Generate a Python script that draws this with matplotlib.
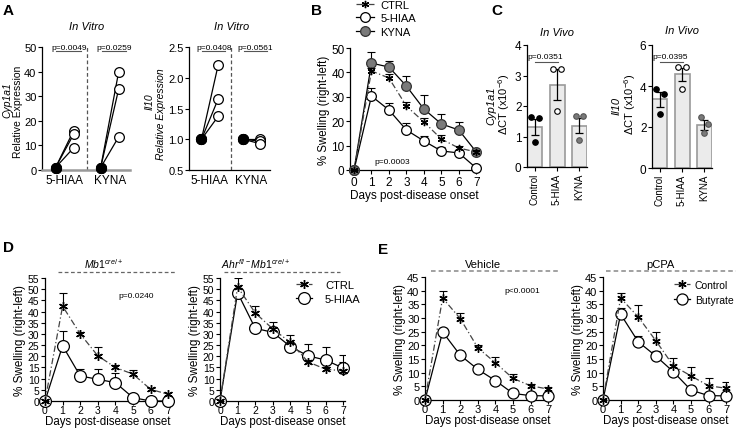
import numpy as np
import matplotlib
matplotlib.use("Agg")
import matplotlib.pyplot as plt

plt.rcParams['font.family'] = ['Liberation Sans', 'DejaVu Sans']
plt.rcParams['mathtext.fontset'] = 'custom'
plt.rcParams['mathtext.rm'] = 'Liberation Sans'
plt.rcParams['mathtext.it'] = 'Liberation Sans:italic'
plt.rcParams['axes.linewidth'] = 0.9

W, H = 736, 431

# ---- A: in vitro relative expression (replicates, baseline -> treated)
a_groups = ['5-HIAA', 'KYNA']
a_cyp_base = [[1, 1, 1], [1, 1, 1]]
a_cyp_treat = [[16, 14.5, 9], [40, 33, 13.5]]
a_il10_base = [[1, 1, 1], [1, 1, 1]]
a_il10_treat = [[2.2, 1.65, 1.37], [1.0, 0.97, 0.93]]
a_cyp_p = ['p=0.0049', 'p=0.0259']
a_il10_p = ['p=0.0408', 'p=0.0561']

# ---- B: swelling, CTRL / 5-HIAA / KYNA
days = [0, 1, 2, 3, 4, 5, 6, 7]
b_labels = ['CTRL', '5-HIAA', 'KYNA']
b_ctrl = [0, 40.6, 37.7, 26.2, 19.7, 12.7, 9.0, 7.4]
b_ctrl_err = [0, 1.0, 1.5, 1.8, 1.6, 1.5, 0.8, 0.8]
b_hiaa = [0, 30.3, 24.6, 16.4, 11.9, 7.8, 7.0, 0.8]
b_hiaa_err = [0, 3.2, 2.9, 2.8, 2.0, 1.5, 1.2, 0.5]
b_kyna = [0, 43.8, 42.2, 34.4, 25.0, 18.9, 16.4, 7.4]
b_kyna_err = [0, 4.5, 2.4, 4.0, 5.7, 4.1, 3.3, 1.5]

# ---- C: in vivo dCT bars
c_groups = ['Control', '5-HIAA', 'KYNA']
c_cyp_mean = [1.32, 2.70, 1.36]
c_cyp_sem = [0.27, 0.50, 0.24]
c_cyp_pts = [[1.65, 1.60, 0.82], [3.2, 3.2, 1.85], [1.67, 1.67, 0.88]]
c_il10_mean = [3.35, 4.57, 2.10]
c_il10_sem = [0.38, 0.33, 0.26]
c_il10_pts = [[3.85, 3.60, 2.65], [4.95, 4.95, 3.85], [2.48, 2.16, 1.72]]

# ---- D: Mb1cre/+ and Ahrfl/- Mb1cre/+
d_labels = ['CTRL', '5-HIAA']
d1_ctrl = [0, 42.4, 30.0, 20.2, 15.0, 12.0, 5.2, 3.0]
d1_ctrl_err = [0, 6.0, 1.0, 4.0, 1.0, 2.0, 0.5, 0.5]
d1_hiaa = [0, 24.7, 11.2, 9.7, 8.2, 1.5, 0, 0]
d1_hiaa_err = [0, 6.8, 3.0, 4.8, 4.2, 0, 0, 0]
d2_ctrl = [0, 51.0, 39.4, 32.2, 26.2, 17.5, 14.2, 13.5]
d2_ctrl_err = [0, 4.0, 3.0, 3.3, 3.3, 1.0, 1.0, 4.0]
d2_hiaa = [0, 48.4, 32.5, 30.7, 24.3, 20.2, 18.3, 14.7]
d2_hiaa_err = [0, 2.0, 1.0, 1.0, 1.0, 5.3, 6.0, 5.8]

# ---- E: Vehicle / pCPA, Control vs Butyrate
e_labels = ['Control', 'Butyrate']
e1_ctrl = [0, 37.3, 29.8, 19.1, 13.6, 7.9, 5.2, 4.0]
e1_ctrl_err = [0, 2.6, 2.2, 1.2, 2.0, 1.5, 0.8, 0.6]
e1_buty = [0, 24.9, 16.4, 11.2, 7.1, 2.4, 1.6, 1.5]
e1_buty_err = [0, 1.6, 1.0, 1.0, 0.5, 0.3, 0.3, 0.3]
e2_ctrl = [0, 37.3, 30.4, 21.7, 12.5, 8.8, 5.2, 4.3]
e2_ctrl_err = [0, 1.9, 4.5, 3.2, 2.7, 3.1, 2.7, 2.4]
e2_buty = [0, 31.4, 21.3, 16.1, 10.3, 3.6, 1.6, 1.5]
e2_buty_err = [0, 2.4, 2.0, 2.0, 1.0, 0.3, 0.3, 0.3]

GRAY = '#7a7a7a'
JITTER = [-0.16, 0.17, 0.0]


def px_axes(fig, l, t, r, b):
    return fig.add_axes([l / W, 1 - b / H, (r - l) / W, (b - t) / H])


def ftext(fig, x, y, s, **kw):
    kw.setdefault('ha', 'center')
    kw.setdefault('va', 'center')
    fig.text(x / W, 1 - y / H, s, **kw)


def clean(ax, fs):
    ax.spines[['top', 'right']].set_visible(False)
    ax.tick_params(labelsize=fs, length=3, width=0.8, pad=1)


def series(ax, y, err, kind, ms, z):
    x = np.array(days)
    eb = ax.errorbar(x, y, yerr=[np.zeros(len(err)), err], fmt='none', ecolor='black',
                     elinewidth=0.8, capsize=3, capthick=0.8, zorder=z - 0.5)
    eb[1][0].set_visible(False)
    if kind == 'ctrl':
        ln, = ax.plot(x, y, ls=(0, (5, 2, 1, 2)), color='#444444', lw=0.9, marker=(6, 2, 0),
                      ms=ms * 0.75, mec='black', mew=1.0, zorder=z, clip_on=False)
    elif kind == 'open':
        ln, = ax.plot(x, y, ls='-', color='black', lw=0.9, marker='o', ms=ms,
                      mfc='white', mec='black', mew=0.9, zorder=z, clip_on=False)
    else:
        ln, = ax.plot(x, y, ls='-', color='black', lw=0.9, marker='o', ms=ms,
                      mfc=GRAY, mec='#333333', mew=0.9, zorder=z, clip_on=False)
    return ln


def swell_axes(ax, ymax, fs, xlpad=0):
    ax.set_xlim(0, 7.1)
    ax.set_ylim(0, ymax)
    ax.set_xticks(days)
    ax.set_yticks(np.arange(0, ymax + 1, 5))
    clean(ax, fs)
    ax.tick_params(axis='x', pad=0)
    ax.set_xlabel('Days post-disease onset', fontsize=8.3, labelpad=xlpad)
    ax.set_ylabel('% Swelling (right-left)', fontsize=8.5, labelpad=1)


fig = plt.figure(figsize=(W / 100, H / 100), dpi=100)

# ================= A =================
def panel_a(ax, base, treat, pvals, ymin, ymax, yticks, fmt):
    for g in range(2):
        for b, t in zip(base[g], treat[g]):
            ax.plot([g - 0.2, g + 0.2], [b, t], color='black', lw=0.9, zorder=2, clip_on=False)
            ax.plot(g + 0.2, t, 'o', ms=7, mfc='white', mec='black', mew=0.9, zorder=3, clip_on=False)
            ax.plot(g - 0.2, b, 'o', ms=7, mfc='black', mec='black', zorder=4, clip_on=False)
        span = ymax - ymin
        ax.plot([g - 0.18, g + 0.37], [ymax - 0.035 * span] * 2, color='#555555', lw=0.8, clip_on=False)
        ax.text(g + 0.1, ymax, pvals[g], fontsize=6, ha='center', va='center')
    ax.axvline(0.5, ls=(0, (3, 2)), color='#555555', lw=0.9)
    ax.set_xlim(-0.5, 1.45)
    ax.set_ylim(ymin, ymax)
    ax.set_yticks(yticks)
    ax.set_yticklabels([fmt.format(v) for v in yticks])
    ax.set_xticks([0, 1])
    ax.set_xticklabels(a_groups)
    clean(ax, 8)
    ax.tick_params(axis='x', length=0, pad=3, labelsize=8.5)


axA1 = px_axes(fig, 42, 48, 130, 171)
panel_a(axA1, a_cyp_base, a_cyp_treat, a_cyp_p, 0, 50, [0, 10, 20, 30, 40, 50], '{:g}')
axA1.spines['bottom'].set_color('#999999')
axA1.spines['bottom'].set_linewidth(1.8)
ftext(fig, 7, 100, 'Cyp1a1', rotation=90, fontsize=7.5, style='italic')
ftext(fig, 18, 112, 'Relative Expression', rotation=90, fontsize=7.5)
ftext(fig, 87, 27, 'In Vitro', fontsize=8, style='italic')

axA2 = px_axes(fig, 189, 48, 270, 171)
panel_a(axA2, a_il10_base, a_il10_treat, a_il10_p, 0.5, 2.5, [0.5, 1.0, 1.5, 2.0, 2.5], '{:.1f}')
ftext(fig, 150, 102, 'Il10', rotation=90, fontsize=7.5, style='italic')
ftext(fig, 161, 114, 'Relative Expression', rotation=90, fontsize=7.5, style='italic')
ftext(fig, 232, 27, 'In Vitro', fontsize=8, style='italic')

# ================= B =================
axB = px_axes(fig, 350, 49, 478, 171)
l_h = series(axB, b_hiaa, b_hiaa_err, 'open', 7, 3)
l_k = series(axB, b_kyna, b_kyna_err, 'gray', 7, 4)
l_c = series(axB, b_ctrl, b_ctrl_err, 'ctrl', 7, 5)
axB.set_xlim(-0.23, 7.1)
axB.set_ylim(0, 50)
axB.set_xticks(days)
axB.set_yticks([0, 10, 20, 30, 40, 50])
clean(axB, 8.5)
axB.set_xlabel('Days post-disease onset', fontsize=8.5, labelpad=1)
axB.set_ylabel('% Swelling (right-left)', fontsize=8.3, labelpad=1)
axB.text(2.2, 3.5, 'p=0.0003', fontsize=6, ha='center', va='center')
fig.legend([l_c, l_h, l_k], b_labels, loc='upper left', bbox_to_anchor=(356 / W, 1 - 1 / H),
           frameon=False, fontsize=8, handlelength=1.6, handletextpad=0.6, labelspacing=0.3,
           borderpad=0, borderaxespad=0)

# ================= C =================
def panel_c(ax, means, sems, pts, ymax, yticks, ptxt):
    x = np.arange(3)
    ax.bar(x, means, width=0.68, color='#ebebeb', edgecolor='#9a9a9a', lw=1.2, zorder=1)
    ax.errorbar(x, means, yerr=sems, fmt='none', ecolor='black', elinewidth=0.9,
                capsize=3, capthick=0.9, zorder=2)
    colors = [('black', 'black'), ('white', 'black'), (GRAY, '#555555')]
    for i in range(3):
        fc, ec = colors[i]
        ax.scatter(i + np.array(JITTER), pts[i], s=16, c=fc, edgecolors=ec, linewidths=0.8, zorder=3)
    ax.plot([0, 1.05], [ymax * 0.86] * 2, color='#555555', lw=0.8)
    ax.text(0.45, ymax * 0.905, ptxt, fontsize=6, ha='center', va='center')
    ax.set_xlim(-0.36, 2.36)
    ax.set_ylim(0, ymax)
    ax.set_yticks(yticks)
    ax.set_xticks(x)
    ax.set_xticklabels(c_groups, rotation=90)
    clean(ax, 8.5)
    ax.tick_params(axis='x', labelsize=7)


axC1 = px_axes(fig, 527, 46, 587, 168)
panel_c(axC1, c_cyp_mean, c_cyp_sem, c_cyp_pts, 4, [0, 1, 2, 3, 4], 'p=0.0351')
ftext(fig, 491, 106, 'Cyp1a1', rotation=90, fontsize=8, style='italic')
ftext(fig, 504, 104, 'ΔCT (x10$^{-6}$)', rotation=90, fontsize=8)
ftext(fig, 557, 33, 'In Vivo', fontsize=8, style='italic')

axC2 = px_axes(fig, 652, 46, 712, 169)
panel_c(axC2, c_il10_mean, c_il10_sem, c_il10_pts, 6, [0, 2, 4, 6], 'p=0.0395')
ftext(fig, 617, 106, 'Il10', rotation=90, fontsize=8, style='italic')
ftext(fig, 630, 104, 'ΔCT (x10$^{-6}$)', rotation=90, fontsize=8)
ftext(fig, 682, 31, 'In Vivo', fontsize=8, style='italic')

# ================= D =================
axD1 = px_axes(fig, 45, 279, 170, 402)
series(axD1, d1_hiaa, d1_hiaa_err, 'open', 8.5, 3)
series(axD1, d1_ctrl, d1_ctrl_err, 'ctrl', 8.5, 5)
swell_axes(axD1, 55, 7.5)
axD1.text(5.2, 47, 'p=0.0240', fontsize=6, ha='center', va='center')
axD1.plot([0.1, 1.04], [1.05, 1.05], transform=axD1.transAxes, ls=(0, (3, 2)),
          color='#666666', lw=0.9, clip_on=False)
ftext(fig, 104, 264, r'$\mathit{Mb1}^{\mathit{cre/+}}$', fontsize=7.5)

axD2 = px_axes(fig, 220, 279, 345, 402)
d_h = series(axD2, d2_hiaa, d2_hiaa_err, 'open', 8.5, 3)
d_c = series(axD2, d2_ctrl, d2_ctrl_err, 'ctrl', 8.5, 5)
swell_axes(axD2, 55, 7.5)
axD2.plot([0.03, 0.96], [1.05, 1.05], transform=axD2.transAxes, ls=(0, (3, 2)),
          color='#666666', lw=0.9, clip_on=False)
ftext(fig, 256, 264, r'$\mathit{Ahr}^{\mathit{fl/-}}\mathit{Mb1}^{\mathit{cre/+}}$', fontsize=7.5)
fig.legend([d_c, d_h], d_labels, loc='upper left', bbox_to_anchor=(296 / W, 1 - 281 / H),
           frameon=False, fontsize=8, handlelength=1.4, handletextpad=1.2, labelspacing=0.35,
           borderpad=0, borderaxespad=0)

# ================= E =================
axE1 = px_axes(fig, 425, 278, 550, 401)
series(axE1, e1_buty, e1_buty_err, 'open', 8, 3)
series(axE1, e1_ctrl, e1_ctrl_err, 'ctrl', 8, 5)
swell_axes(axE1, 45, 8)
axE1.text(5.5, 40, 'p<0.0001', fontsize=6, ha='center', va='center')
axE1.plot([0.05, 1.08], [1.05, 1.05], transform=axE1.transAxes, ls=(0, (3, 2)),
          color='#888888', lw=1.1, clip_on=False)
ftext(fig, 483, 265, 'Vehicle', fontsize=8)

axE2 = px_axes(fig, 603, 278, 728, 401)
e_b = series(axE2, e2_buty, e2_buty_err, 'open', 8, 3)
e_c = series(axE2, e2_ctrl, e2_ctrl_err, 'ctrl', 8, 5)
swell_axes(axE2, 45, 8)
axE2.plot([0.02, 1.06], [1.05, 1.05], transform=axE2.transAxes, ls=(0, (3, 2)),
          color='#888888', lw=1.1, clip_on=False)
ftext(fig, 660, 265, 'pCPA', fontsize=8)
fig.legend([e_c, e_b], e_labels, loc='upper left', bbox_to_anchor=(674 / W, 1 - 281 / H),
           frameon=False, fontsize=7.5, handlelength=1.5, handletextpad=0.5, labelspacing=0.45,
           borderpad=0, borderaxespad=0)

# panel letters
for letter, x, y in [('A', 8, 11), ('B', 317, 11), ('C', 497, 11), ('D', 8, 248), ('E', 383, 250)]:
    ftext(fig, x, y, letter, fontsize=11, fontweight='bold')

fig.savefig('out.png', dpi=100)
